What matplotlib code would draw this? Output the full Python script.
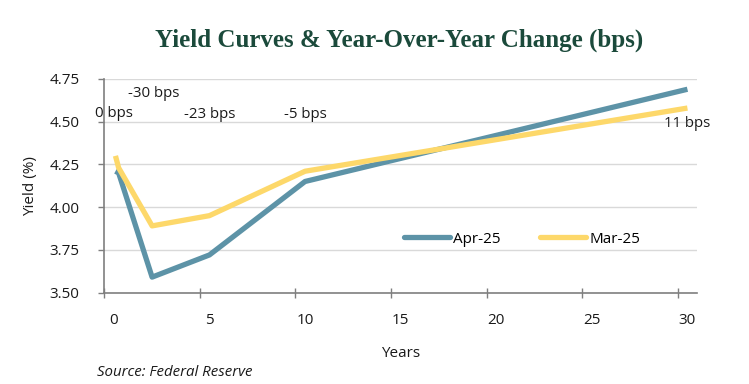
import matplotlib.pyplot as plt
import numpy as np

# maturities in years (1m, 3m, 2y, 5y, 10y, 30y)
years = [1/12, 0.25, 2, 5, 10, 30]
apr25 = [4.21, 4.20, 3.59, 3.72, 4.15, 4.69]
mar25 = [4.30, 4.23, 3.89, 3.95, 4.21, 4.58]

# year-over-year change labels
chg_x = [0, 2.1, 5, 10, 30]
chg_y = [4.55, 4.665, 4.545, 4.545, 4.49]
chg_txt = ['0 bps', '-30 bps', '-23 bps', '-5 bps', '11 bps']

blue = '#5d93a7'
yellow = '#fdd86a'
grey = '#7f7f7f'

plt.rcParams['font.family'] = ['Open Sans', 'DejaVu Sans']

fig = plt.figure(figsize=(7.49, 3.84), dpi=100)
ax = fig.add_axes([104.3/749, 1-292.5/384, 592.7/749, 213.5/384])

ax.plot(years, apr25, color=blue, lw=3.8, solid_capstyle='butt', label='Apr-25', zorder=3)
ax.plot(years, mar25, color=yellow, lw=3.8, solid_capstyle='butt', label='Mar-25', zorder=4)

for x, y, t in zip(chg_x, chg_y, chg_txt):
    ax.text(x, y, t, ha='center', va='center', fontsize=10.8, color='#1a1a1a', zorder=5)

ax.set_xlim(-0.5, 30.5)
ax.set_ylim(3.5, 4.75)
ax.set_yticks([3.5, 3.75, 4.0, 4.25, 4.5, 4.75])
ax.set_yticklabels(['3.50', '3.75', '4.00', '4.25', '4.50', '4.75'])
ax.set_xticks([0, 5, 10, 15, 20, 25, 30])
ax.set_xticks(np.arange(-0.5, 30, 5), minor=True)
ax.tick_params(axis='x', which='major', length=0, pad=15, labelsize=11, labelcolor='#1a1a1a')
ax.tick_params(axis='x', which='minor', length=7, direction='inout', color=grey, width=1)
ax.tick_params(axis='y', length=4, direction='out', color=grey, width=1, pad=14,
               labelsize=11, labelcolor='#1a1a1a')

ax.grid(axis='y', color='#d9d9d9', lw=1, zorder=0)
for s in ['top', 'right']:
    ax.spines[s].set_visible(False)
for s in ['left', 'bottom']:
    ax.spines[s].set_color(grey)
    ax.spines[s].set_linewidth(1.2)

ax.set_xlabel('Years', fontsize=11, labelpad=13, color='#1a1a1a')
ax.set_ylabel('Yield (%)', fontsize=11, labelpad=8, color='#1a1a1a')

leg = ax.legend(loc='center', bbox_to_anchor=(0.705, 0.25), ncol=2, frameon=False,
                fontsize=11, handlelength=3.0, handletextpad=0.2, columnspacing=2.6)
for h in leg.get_lines():
    h.set_solid_capstyle('round')

fig.text(399/749, 1-40/384, 'Yield Curves & Year-Over-Year Change (bps)', ha='center', va='center',
         fontsize=18, fontweight='bold', color='#1b4a3b', family='Liberation Serif')
fig.text(97/749, 1-372/384, 'Source: Federal Reserve', ha='left', va='center',
         fontsize=10.8, style='italic', color='#1a1a1a')

fig.savefig('out.png', dpi=100)
